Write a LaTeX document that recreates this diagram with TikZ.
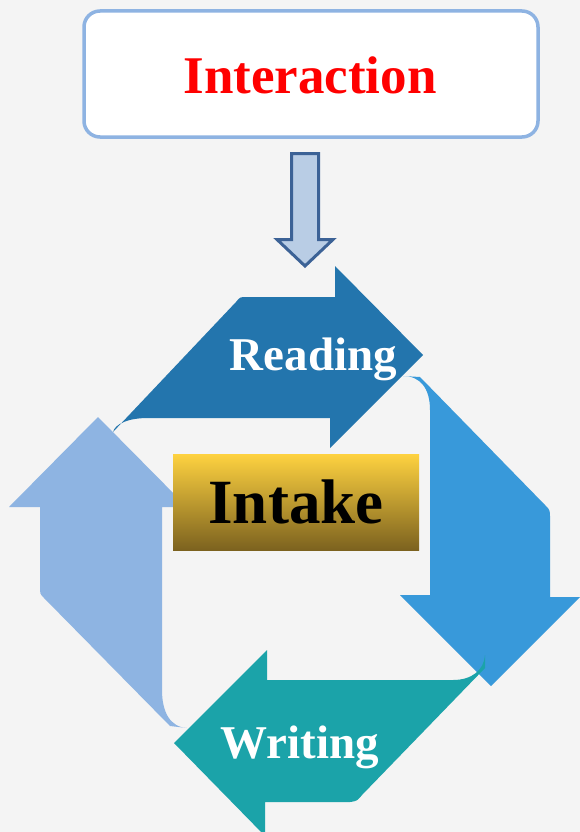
\documentclass[tikz,border=0pt]{standalone}
\usepackage{fontspec}
\setmainfont{Liberation Serif}
\definecolor{bg}{RGB}{244,244,244}
\definecolor{boxblue}{RGB}{142,179,226}
\definecolor{arrfill}{RGB}{185,205,229}
\definecolor{arrdraw}{RGB}{60,98,150}
\definecolor{readc}{RGB}{35,117,173}
\definecolor{rightc}{RGB}{56,153,218}
\definecolor{writec}{RGB}{27,163,169}
\definecolor{leftc}{RGB}{142,180,226}
\definecolor{goldtop}{RGB}{254,210,64}
\definecolor{goldbot}{RGB}{124,98,31}
\tikzset{
  lbl/.style={anchor=base, font=\fontsize{47}{52}\selectfont\bfseries, text=white, inner sep=0pt},
}
\begin{document}
\begin{tikzpicture}[x=1pt,y=-1pt]
\fill[bg] (0,0) rectangle (580,832);
\useasboundingbox (0,0) rectangle (580,832);
% Interaction box
\node[draw=boxblue, line width=3.5pt, fill=white, rounded corners=16pt,
      minimum width=454pt, minimum height=126pt, inner sep=0pt] (ibox) at (311,74) {};
\node[anchor=base, font=\fontsize{53}{60}\selectfont\bfseries, text=red, inner sep=0pt] (inter) at (310,94) {Interaction};
% down arrow
\draw[fill=arrfill, draw=arrdraw, line width=3pt, line join=miter]
  (291.5,153.5) -- (318.5,153.5) -- (318.5,239.5) -- (333,239.5) -- (305,266) -- (277,239.5) -- (291.5,239.5) -- cycle;
% Reading arrow
\fill[readc] (113,432) -- (236,302) .. controls (240,297) .. (247,297) -- (335,297) -- (335,266) -- (423,355)
  -- (330,448) -- (330,418) -- (148,418) .. controls (128,418) and (115,424) .. (113,432) -- cycle;
% Right arrow
\fill[rightc] (403,376) -- (420,377) -- (545,505) .. controls (550,510) .. (550,518) -- (550,597) -- (580,597)
  -- (491,686) -- (400,595) -- (430,595) -- (430,410) .. controls (430,388) and (420,376) .. (403,376) -- cycle;
% Writing arrow
\fill[writec] (485,655) -- (485,668) -- (362,795) .. controls (357,801) .. (350,802) -- (265,802) -- (265,836)
  -- (174,743) -- (267,650) -- (267,680) -- (453,680) .. controls (472,680) and (484,670) .. (485,655) -- cycle;
% Left arrow
\fill[leftc] (98,417) -- (187,507) -- (162,507) -- (162,690) .. controls (162,712) and (170,727) .. (187,728)
  -- (170,726) -- (44,598) .. controls (40,594) .. (40,586) -- (40,507) -- (9,507) -- cycle;
% Intake
\node[top color=goldtop, bottom color=goldbot, minimum width=246pt, minimum height=96pt, inner sep=0pt,
      font=\fontsize{63}{70}\selectfont\bfseries] (intake) at (296,502) {Intake};
% labels
\node[lbl] (reading) at (313.5,370) {Reading};
\node[lbl] (writing) at (299.5,758) {Writing};
\end{tikzpicture}
\end{document}
